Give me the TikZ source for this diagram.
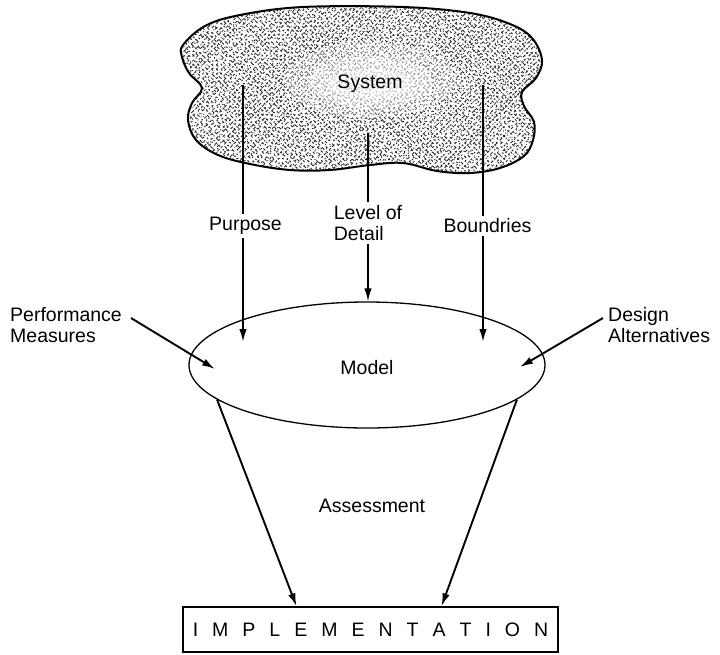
\documentclass[tikz,border=0pt]{standalone}
\usepackage{fontspec}
\setmainfont{Liberation Sans}
\usetikzlibrary{arrows.meta,shapes.geometric,calc}

\tikzset{
  lbl/.style={font=\fontsize{19.5}{21}\selectfont, inner sep=0pt},
  flow/.style={line width=1.9pt},
  flowarrow/.style={line width=1.9pt, -{Latex[length=13pt,width=7.5pt]}},
  slimarrow/.style={line width=1.5pt, -{Latex[length=13pt,width=7.5pt]}},
  grain/.style={line width=0.85pt, black!85},
}

\begin{document}
\begin{tikzpicture}[x=1pt,y=-1pt]
  \useasboundingbox (0,0) rectangle (720,654);

  % the system: a cloud with a grainy cross-hatched screen
  \def\cloudpath{plot[smooth cycle, tension=0.6] coordinates {
      (183,45) (205,26) (240,15) (303,7) (403,7) (470,13) (510,24) (532,38)
      (542,60) (536,78) (522,92) (524,106) (534,122) (533,140) (524,156)
      (500,168) (470,173) (437,171) (403,163) (370,165) (330,170) (290,170)
      (250,164) (218,155) (196,140) (188,120) (192,103) (202,88) (189,73) (182,57)}}
  \fill[white] \cloudpath;
  \begin{scope}
    \clip \cloudpath;
    \pgfmathsetseed{4711}
    \foreach \k in {0,4.6,...,550} {
      \pgfmathsetmacro{\da}{0.8+2.4*rnd}
      \pgfmathsetmacro{\db}{1.5+3.5*rnd}
      \pgfmathsetmacro{\dc}{0.8+2.2*rnd}
      \pgfmathsetmacro{\dd}{1.5+4.0*rnd}
      \pgfmathsetmacro{\ph}{12*rnd}
      \draw[grain, dash pattern=on \da pt off \db pt on \dc pt off \dd pt, dash phase=\ph pt]
        (\k,0) -- ++(180,180);
      \pgfmathsetmacro{\da}{0.8+2.4*rnd}
      \pgfmathsetmacro{\db}{1.5+3.5*rnd}
      \pgfmathsetmacro{\dc}{0.8+2.2*rnd}
      \pgfmathsetmacro{\dd}{1.5+4.0*rnd}
      \pgfmathsetmacro{\ph}{12*rnd}
      \draw[grain, dash pattern=on \da pt off \db pt on \dc pt off \dd pt, dash phase=\ph pt]
        (\k,180) -- ++(180,-180);
    }
    % lighter zone around the name
    \fill[white, opacity=0.3] (370,80) ellipse (85pt and 38pt);
    \fill[white, opacity=0.35] (370,82) ellipse (62pt and 26pt);
    \fill[white, opacity=0.4] (370,84) ellipse (42pt and 15pt);
  \end{scope}
  \draw[line width=2pt] \cloudpath;
  \node[lbl] (system) at (370,84) {System};

  % the model and the implementation it leads to
  \node[ellipse, draw, line width=1.3pt, minimum width=356pt, minimum height=126pt, inner sep=0pt]
    (model) at (367,365) {};
  \node[lbl] at (367,368) {Model};
  \node[lbl] (assess) at (372,506) {Assessment};
  \node[draw, line width=1.5pt, minimum width=375pt, minimum height=45pt, inner sep=0pt]
    (impl) at (370.5,629.5) {\fontsize{19.5}{21}\selectfont
      I\hspace{14pt}M\hspace{14pt}P\hspace{14pt}L\hspace{14pt}E\hspace{14pt}M\hspace{14pt}E\hspace{14pt}N\hspace{14pt}T\hspace{14pt}A\hspace{14pt}T\hspace{14pt}I\hspace{14pt}O\hspace{14pt}N};

  % labels on the three vertical flows
  \node[lbl, inner sep=3pt] (purpose) at (245.5,226) {Purpose};
  \node[lbl, align=left, inner sep=3pt] (lod) at (368,223) {Level of\\Detail};
  \node[lbl, inner sep=3pt] (bound) at (487.5,226) {Boundries};

  % side inputs
  \node[lbl, align=left, anchor=north west] (perf) at (10,307) {Performance\\Measures};
  \node[lbl, align=left, anchor=north west] (design) at (608,307) {Design\\Alternatives};

  \coordinate (pTop) at (243,85);
  \coordinate (pTip) at (243,342);
  \coordinate (bTop) at (483,85);
  \coordinate (bTip) at (483,342);
  \coordinate (lTop) at (368,133);
  \coordinate (perfStart) at (131,318);
  \coordinate (perfTip) at (215,369);
  \coordinate (desStart) at (603,318);
  \coordinate (desTip) at (520,367);

  % purpose
  \draw[flow] (pTop) -- (pTop |- purpose.north);
  \draw[flowarrow] (pTop |- purpose.south) -- (pTip);
  % level of detail
  \draw[flow] (lTop) -- (lTop |- lod.north);
  \draw[slimarrow] (lTop |- lod.south) -- (lTop |- model.north);
  % boundries
  \draw[flow] (bTop) -- (bTop |- bound.north);
  \draw[flowarrow] (bTop |- bound.south) -- (bTip);

  % performance measures and design alternatives
  \draw[flowarrow] (perfStart) -- (perfTip);
  \draw[flowarrow] (desStart) -- (desTip);

  % assessment leading to implementation
  \draw[flowarrow] (model.193) -- ([xshift=-74pt]impl.north);
  \draw[flowarrow] (model.-13) -- ([xshift=71pt]impl.north);
\end{tikzpicture}
\end{document}
